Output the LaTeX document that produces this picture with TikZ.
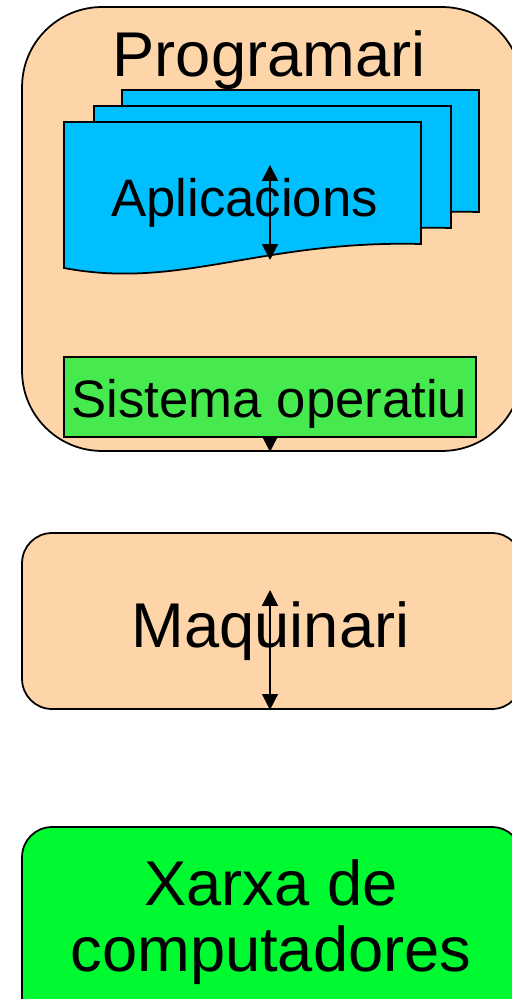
\documentclass[tikz,border=0pt]{standalone}
\usepackage{fontspec}
\setmainfont{Liberation Sans}
\usepackage{tikz}
\usetikzlibrary{arrows.meta}
\definecolor{pell}{RGB}{253,213,168}
\definecolor{blau}{RGB}{0,191,255}
\definecolor{verdso}{RGB}{70,234,78}
\definecolor{verdxarxa}{RGB}{0,250,50}
\begin{document}
\begin{tikzpicture}[x=0.02cm,y=-0.02cm,
  caixa/.style={draw,line width=1pt,inner sep=0pt},
  doc/.style={draw,line width=1pt,fill=blau},
  rotul/.style={anchor=base,inner sep=0pt,font=\fontsize{36}{37.5}\selectfont},
  fletxa/.style={line width=1pt,{Triangle[length=9pt,width=9pt]}-{Triangle[length=9pt,width=9pt]}}]

        \useasboundingbox (0,0) rectangle (511,999);

        %capses
        \node[caixa,fill=pell,minimum width=10cm,minimum height=8.88cm,rounded corners=1.6cm] (prog) at (272,229) {};
        \node[caixa,fill=pell,minimum width=10cm,minimum height=3.52cm,rounded corners=0.6cm] (maq) at (272,621) {};
        \node[caixa,fill=verdxarxa,minimum width=10cm,minimum height=4cm,rounded corners=0.6cm] (xarxa) at (272,927) {};

        %documents
        \foreach \dx/\dy in {58/32,30/16,0/0}{
            \draw[doc] (64+\dx,122-\dy) -- (421+\dx,122-\dy) -- (421+\dx,244-\dy)
            .. controls (260+\dx,240-\dy) and (180+\dx,290-\dy) .. (64+\dx,268-\dy) -- cycle;
        }

        \node[caixa,fill=verdso,minimum width=8.24cm,minimum height=1.6cm] (so) at (270,397) {};

        %textos
        \node[rotul] (progText) at (269,77) {Programari};
        \node[rotul,font=\fontsize{30}{32}\selectfont] (apl) at (244.5,217) {Aplicacions};
        \node[rotul,font=\fontsize{30}{32}\selectfont] (soText) at (269.5,418) {Sistema operatiu};
        \node[rotul] (maqText) at (270.5,647) {Maquinari};
        \node[rotul,anchor=center,align=center] (xarxaText) at (271,922) {Xarxa de\\computadores};

        %fletxes
        \coordinate (aplTop) at (270,165);
        \coordinate (aplBot) at (270,260);
        \coordinate (maqTop) at (270,590);
        \draw[fletxa] (aplTop) -- (aplBot);
        \draw[fletxa] (maqTop) -- (maqTop |- maq.south);
        \draw[line width=1pt,-{Triangle[length=8pt,width=8pt]}] (so.south) -- (so.south |- prog.south);

\end{tikzpicture}
\end{document}
